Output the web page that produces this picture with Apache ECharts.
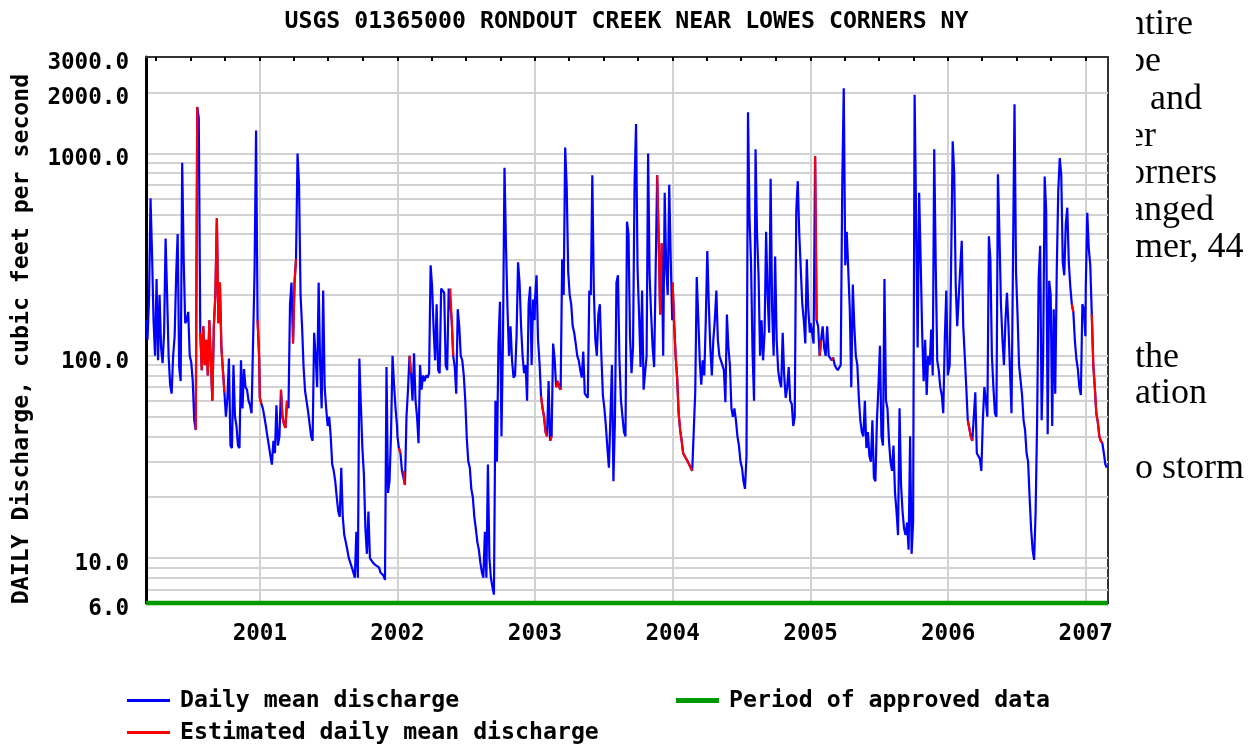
<!DOCTYPE html>
<html>
<head>
<meta charset="utf-8">
<script src="https://cdn.jsdelivr.net/npm/echarts@6/dist/echarts.min.js"></script>
<style>
html,body{margin:0;padding:0;background:#ffffff;}
#chart{width:1253px;height:744px;}
</style>
</head>
<body>
<div id="chart"></div>
<script>
// ---------------- DATA ----------------
const titleText = 'USGS 01365000 RONDOUT CREEK NEAR LOWES CORNERS NY';
const yAxisTitle = 'DAILY Discharge, cubic feet per second';
const seriesNames = ['Daily mean discharge', 'Estimated daily mean discharge', 'Period of approved data'];

// each yearly array holds discharge (cfs) sampled every 4 days from its start date
const sampleStepDays = 4;
const yearStarts = ['2000-03-05', '2001-01-01', '2002-01-01', '2003-01-01', '2004-01-01', '2005-01-01', '2006-01-01', '2007-01-01'];

const q2000 = [150,120,190,600,320,150,100,240,95,200,
  110,92,130,380,200,100,72,65,100,125,
  250,400,88,75,900,300,145,150,165,100,
  93,75,48,43,1700,1500,130,85,140,90,
  120,80,150,95,60,140,200,480,145,230,
  110,85,66,50,62,97,36,35,90,50,
  45,36,35,95,55,86,70,68,60,57,
  52,52,260,1300,150,100];

const q2001 = [62,58,55,50,45,40,36,32,29,38,
  33,57,36,40,68,50,46,44,60,55,
  180,230,115,230,300,1000,700,200,140,88,
  67,67,53,53,40,38,130,100,70,230,
  90,55,210,70,55,45,50,40,29,27,
  24,20,17,16,28,16,13,12,11,10,
  9.5,9,8.5,8,13.5,8,97,57,35,26,
  14,10.5,17,10,10,9.5,9.5,9.2,9,9,
  8.5,8.5,8.2,7.8,88,21,24,41,100,72,
  55,45];

const q2002 = [40,35,33,27,27,23,50,68,100,82,
  60,103,60,50,37,90,68,80,75,80,
  78,82,280,220,135,95,180,85,82,215,
  210,205,90,85,215,215,150,100,88,65,
  170,140,100,95,80,60,39,30,28,22,
  20,16,14,12,11,9.5,8.5,8,13.5,8,
  29,10,8,7.2,6.6,60,30,115,185,40,
  120,850,350,170,100,140,95,78,80,125,
  290,230,140,100,82,90,60,180,220,90,
  190,150];

const q2003 = [190,250,120,92,63,55,50,42,40,75,
  38,40,115,97,70,75,70,68,300,200,
  1070,690,260,200,180,140,130,115,100,95,
  85,78,105,65,65,62,210,200,780,210,
  120,100,160,180,100,64,55,45,35,28,
  28,90,24,48,230,250,95,60,50,42,
  40,460,400,125,82,110,700,1400,270,160,
  88,210,68,68,100,1000,250,160,110,88,
  90,780,380,160,360,100,640,270,200,700,
  300,150];

const q2004 = [230,145,100,78,52,43,38,33,32,31,
  30,29,28,27,27,66,245,155,95,72,
  95,80,150,330,180,110,80,120,150,210,
  120,100,95,90,85,59,160,110,90,55,
  50,55,48,40,36,30,28,24,22,32,
  1600,480,290,105,60,1050,400,250,100,150,
  95,130,410,200,130,750,170,100,310,120,
  85,75,70,130,80,62,70,88,60,58,
  45,50,520,730,400,400,180,150,115,300,
  170,130];

const q2005 = [145,130,115,970,150,140,100,120,140,110,
  100,140,100,100,95,98,90,87,85,85,
  90,700,2100,280,410,410,170,70,225,140,
  100,90,62,48,42,40,60,35,42,32,
  30,48,25,24,48,70,112,40,36,240,
  60,55,38,30,27,36,21,17,13,55,
  23,17,14,13,15,11,40,10.5,15,1950,
  480,110,640,300,130,75,120,64,100,90,
  135,80,1050,280,95,85,70,64,52,120,
  210,80];

const q2006 = [80,90,300,1150,800,225,140,140,270,370,
  140,100,70,48,44,40,38,50,66,33,
  32,31,27,48,70,60,50,390,300,100,
  70,52,50,790,400,180,120,90,150,205,
  140,85,52,300,1750,260,160,90,90,64,
  48,43,33,30,20,14,11,9.8,17,48,
  240,350,48,100,770,520,41,235,200,45,
  170,65,260,650,950,780,290,250,450,540,
  290,220,180,165,120,97,86,70,64,180,
  170,125];

const q2007 = [215,510,340,280,160,90,70,52,47,40,38,37,33,29,28];

const yearlyValues = [q2000, q2001, q2002, q2003, q2004, q2005, q2006, q2007];

// periods flagged as estimated (inclusive)
const estimatedPeriods = [
  ['2000-07-15', '2000-07-19'], ['2000-07-27', '2000-09-29'], ['2000-12-26', '2001-01-05'],
  ['2001-02-26', '2001-03-14'], ['2001-03-30', '2001-04-07'],
  ['2002-01-05', '2002-01-09'], ['2002-01-17', '2002-01-21'], ['2002-02-02', '2002-02-06'], ['2002-05-21', '2002-05-29'],
  ['2003-01-17', '2003-02-02'], ['2003-02-10', '2003-02-14'], ['2003-02-26', '2003-03-10'], ['2003-11-21', '2003-12-03'],
  ['2004-01-01', '2004-02-22'],
  ['2005-01-13', '2005-01-17'], ['2005-01-25', '2005-01-29'], ['2005-02-26', '2005-03-02'],
  ['2006-02-22', '2006-03-06'], ['2006-11-25', '2006-11-29'],
  ['2007-01-17', '2007-02-14']
];

const approvedPeriod = ['2000-03-05', '2007-03-01'];
const approvedLevel = 6;

const xRange = ['2000-03-05', '2007-03-01'];
const yearTicks = ['2001-01-01', '2002-01-01', '2003-01-01', '2004-01-01', '2005-01-01', '2006-01-01', '2007-01-01'];
const yearLabels = ['2001', '2002', '2003', '2004', '2005', '2006', '2007'];
const quarterTicks = [
  '2000-04-01', '2000-07-01', '2000-10-01', '2001-01-01', '2001-04-01', '2001-07-01', '2001-10-01',
  '2002-01-01', '2002-04-01', '2002-07-01', '2002-10-01', '2003-01-01', '2003-04-01', '2003-07-01', '2003-10-01',
  '2004-01-01', '2004-04-01', '2004-07-01', '2004-10-01', '2005-01-01', '2005-04-01', '2005-07-01', '2005-10-01',
  '2006-01-01', '2006-04-01', '2006-07-01', '2006-10-01', '2007-01-01'
];
const yRange = [6, 3000];
const yLabelValues = [6, 10, 100, 1000, 2000, 3000];
const yGridValues = [7, 8, 9, 10, 20, 30, 40, 50, 60, 70, 80, 90, 100, 200, 300, 400, 500, 600, 700, 800, 900, 1000, 2000];

// surrounding page text (partly hidden by the chart image)
const pageTextLines = ['ntire', 'be', 'and', 'er', 'orners', 'anged', 'mer, 44', 'the', 'ation', 'o storm'];

// ---------------- BUILD ----------------
function toTime(s) {
  const p = s.split('-').map(Number);
  return new Date(p[0], p[1] - 1, p[2]).getTime();
}

const points = [];
yearlyValues.forEach(function (vals, k) {
  const p = yearStarts[k].split('-').map(Number);
  vals.forEach(function (v, i) {
    points.push([new Date(p[0], p[1] - 1, p[2] + i * sampleStepDays).getTime(), v]);
  });
});
const estRanges = estimatedPeriods.map(function (r) { return [toTime(r[0]), toTime(r[1])]; });
const estPoints = points.map(function (pt) {
  const inside = estRanges.some(function (r) { return pt[0] >= r[0] && pt[0] <= r[1]; });
  return [pt[0], inside ? pt[1] : '-'];
});
const approvedData = [[toTime(approvedPeriod[0]), approvedLevel], [toTime(approvedPeriod[1]), approvedLevel]];
const yearTickTimes = yearTicks.map(toTime);

const MONO = 'DejaVu Sans Mono';
const monoText = function (size) {
  return { fontFamily: MONO, fontWeight: 'bold', fontSize: size, color: '#000000' };
};

// layout for page text
const pageTextX = [1127, 1127, 1150, 1128, 1127, 1128, 1135, 1135, 1135, 1135];
const pageTextY = [25, 62, 100, 137, 174, 211, 248, 358, 394, 469];

const graphics = [
  {
    type: 'text', x: 22, y: 339, rotation: Math.PI / 2, z: 10,
    style: { text: yAxisTitle, fontFamily: MONO, fontWeight: 'bold', fontSize: 23.2, fill: '#000', align: 'center', verticalAlign: 'middle' }
  }
];
pageTextLines.forEach(function (t, i) {
  graphics.push({
    type: 'text', x: pageTextX[i], y: pageTextY[i], z: 1,
    style: { text: t, fontFamily: 'Liberation Serif', fontSize: 36, fill: '#000', align: 'left', verticalAlign: 'middle' }
  });
});
graphics.push({ type: 'rect', z: 2, shape: { x: 1110, y: 0, width: 26, height: 520 }, style: { fill: '#ffffff' } });

const gridLine = { show: true, lineStyle: { color: '#d2d2d2', width: 2, type: 'solid' } };

const legendBase = function (name, left, top, h) {
  return {
    data: [name], orient: 'horizontal', left: left, top: top, padding: 0,
    icon: 'rect', itemWidth: 43, itemHeight: h, selectedMode: false,
    textStyle: Object.assign(monoText(23.2), { lineHeight: 23, padding: [0, 0, 0, 5] })
  };
};

const chart = echarts.init(document.getElementById('chart'), null, { renderer: 'canvas' });
chart.setOption({
  animation: false,
  backgroundColor: '#ffffff',
  title: {
    text: titleText, left: 'center', top: 5,
    textStyle: monoText(23.2)
  },
  grid: {
    left: 146, top: 57, right: 145, bottom: 141,
    show: true, borderColor: '#333333', borderWidth: 2, backgroundColor: 'transparent',
    containLabel: false, outerBoundsMode: 'none'
  },
  legend: [
    legendBase(seriesNames[0], 127, 689, 3),
    legendBase(seriesNames[1], 127, 721, 3),
    legendBase(seriesNames[2], 676, 689, 5)
  ],
  xAxis: [
    {
      type: 'value', position: 'bottom', scale: true,
      min: toTime(xRange[0]), max: toTime(xRange[1]),
      axisLine: { show: true, onZero: false, lineStyle: { color: '#000', width: 2 } },
      axisTick: { show: false, customValues: yearTickTimes },
      axisLabel: {
        customValues: yearTickTimes, margin: 20,
        formatter: function (v) { return yearLabels[yearTickTimes.indexOf(v)] || ''; },
        fontFamily: MONO, fontWeight: 'bold', fontSize: 22.6, color: '#000'
      },
      splitLine: gridLine
    },
    {
      type: 'value', position: 'top', scale: true,
      min: toTime(xRange[0]), max: toTime(xRange[1]),
      axisLine: { show: true, onZero: false, lineStyle: { color: '#333', width: 2 } },
      axisTick: { show: true, inside: true, length: 4, customValues: quarterTicks.map(toTime), lineStyle: { color: '#000', width: 2 } },
      axisLabel: { show: false },
      splitLine: { show: false }
    }
  ],
  yAxis: {
    type: 'log', logBase: 10, min: yRange[0], max: yRange[1],
    axisLine: { show: true, onZero: false, lineStyle: { color: '#000', width: 3 } },
    axisTick: { show: false, customValues: yGridValues },
    axisLabel: {
      customValues: yLabelValues, margin: 17,
      formatter: function (v) { return Number(v).toFixed(1); },
      fontFamily: MONO, fontWeight: 'bold', fontSize: 22.6, color: '#000',
      verticalAlign: 'top', lineHeight: 12
    },
    splitLine: gridLine
  },
  graphic: graphics,
  series: [
    {
      name: seriesNames[0], type: 'line', data: points, symbol: 'none', showSymbol: false,
      lineStyle: { color: '#0000ff', width: 2.2 }, itemStyle: { color: '#0000ff' }, z: 3, silent: true
    },
    {
      name: seriesNames[1], type: 'line', data: estPoints, symbol: 'none', showSymbol: false, connectNulls: false,
      lineStyle: { color: '#ff0000', width: 2.2 }, itemStyle: { color: '#ff0000' }, z: 4, silent: true
    },
    {
      name: seriesNames[2], type: 'line', data: approvedData, symbol: 'none', showSymbol: false, clip: false,
      lineStyle: { color: '#009a00', width: 4.5 }, itemStyle: { color: '#009a00' }, z: 5, silent: true
    }
  ]
});
</script>
</body>
</html>
